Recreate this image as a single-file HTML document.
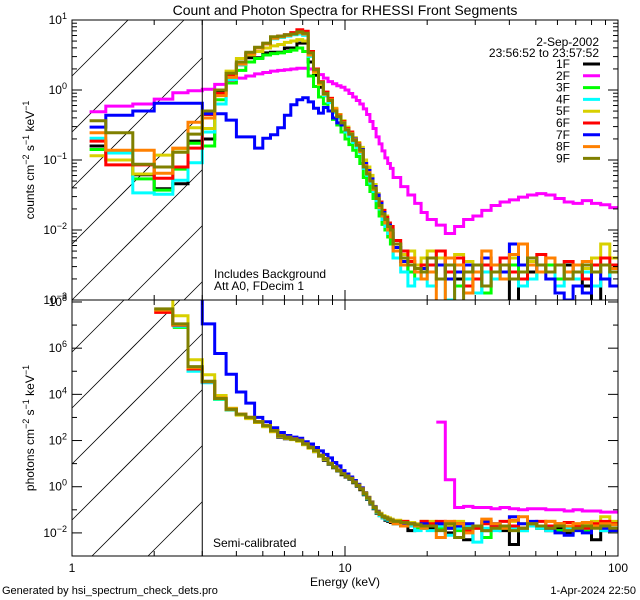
<!DOCTYPE html>
<html><head><meta charset="utf-8"><title>RHESSI Spectrum Check</title><style>
html,body{margin:0;padding:0;background:#fff;width:640px;height:600px;overflow:hidden;}
svg{display:block;font-family:"Liberation Sans",sans-serif;}
</style></head><body>
<svg id="chart" width="640" height="600" viewBox="0 0 640 600">
<defs>
<clipPath id="clipTop"><rect x="72" y="20" width="546" height="280"/></clipPath>
<clipPath id="clipBot"><rect x="72" y="300" width="546" height="256"/></clipPath>
</defs>
<rect x="0" y="0" width="640" height="600" fill="#fff"/>
<text x="345" y="15" text-anchor="middle" font-size="14">Count and Photon Spectra for RHESSI Front Segments</text>
<g id="hatch"></g>
<g id="series"></g>
<g id="axes" stroke="#000" fill="none" stroke-width="1"></g>
<g id="labels" font-size="12" fill="#000"></g>
<text x="214" y="278" font-size="12">Includes Background</text>
<text x="214" y="290" font-size="12">Att A0, FDecim  1</text>
<text x="213" y="547" font-size="12">Semi-calibrated</text>
<text x="345" y="586" text-anchor="middle" font-size="12">Energy (keV)</text>
<text x="2" y="594" font-size="11">Generated by hsi_spectrum_check_dets.pro</text>
<text x="636" y="594" text-anchor="end" font-size="11">1-Apr-2024 22:50</text>
<text transform="translate(34,160) rotate(-90)" text-anchor="middle" font-size="12">counts cm<tspan dy="-5" font-size="9">−2</tspan><tspan dy="5"> s</tspan><tspan dy="-5" font-size="9">−1</tspan><tspan dy="5"> keV</tspan><tspan dy="-5" font-size="9">−1</tspan></text>
<text transform="translate(34,428) rotate(-90)" text-anchor="middle" font-size="12">photons cm<tspan dy="-5" font-size="9">−2</tspan><tspan dy="5"> s</tspan><tspan dy="-5" font-size="9">−1</tspan><tspan dy="5"> keV</tspan><tspan dy="-5" font-size="9">−1</tspan></text>
<g id="legend" font-size="12"></g>
</svg>
<script>
const edges=[1.16,1.33,1.67,2.0,2.34,2.66,3.0,3.333,3.667,4,4.333,4.667,5,5.333,5.667,6,6.333,6.667,7,7.333,7.667,8,8.333,8.667,9,9.333,9.667,10,10.333,10.667,11,11.333,11.667,12,12.333,12.667,13,13.333,13.667,14,14.333,14.667,15,16,17,18,19,20,21.6,23.3,25.2,27.2,29.4,31.7,34.3,37,40,43.2,46.6,50.4,54.4,58.8,63.5,68.5,74,80,86.4,93.3,100];
const seriesNames=["1F","2F","3F","4F","5F","6F","7F","8F","9F"];
const seriesColors=["#000000","#ff00ff","#00ff00","#00ffff","#d8d000","#ff0000","#0000ff","#ff8000","#808000"];
const counts1F=[-0.8,-1.0,-1.21,-1.41,-1.34,-0.73,-0.7,-0.03,0.2,0.36,0.46,0.46,0.53,0.54,0.54,0.6,0.6,0.67,0.67,0.4,0.21,0.04,-0.08,-0.17,-0.3,-0.4,-0.48,-0.58,-0.65,-0.73,-0.8,-0.88,-1.1,-1.2,-1.32,-1.43,-1.56,-1.68,-1.8,-1.88,-1.96,-2.05,-2.3,-2.45,-2.6,-2.5,-2.55,-2.5,-2.4,-2.6,-2.7,-2.5,-2.6,-2.8,-2.5,-2.6,-3.1,-2.7,-2.6,-2.5,-2.6,-2.7,-2.5,-2.6,-2.8,-3.1,-2.7,-2.6];
const counts2F=[-0.31,-0.23,-0.2,-0.13,-0.04,-0.01,0.01,0.08,0.13,0.17,0.2,0.23,0.25,0.27,0.28,0.29,0.3,0.31,0.31,0.3,0.27,0.22,0.17,0.12,0.09,0.06,0.04,0.0,-0.05,-0.1,-0.15,-0.2,-0.27,-0.35,-0.45,-0.55,-0.67,-0.77,-0.87,-0.97,-1.05,-1.12,-1.25,-1.38,-1.5,-1.62,-1.75,-1.85,-1.93,-2.05,-1.95,-1.85,-1.8,-1.72,-1.65,-1.6,-1.57,-1.53,-1.5,-1.48,-1.5,-1.55,-1.6,-1.62,-1.58,-1.62,-1.64,-1.68];
const counts3F=[-0.85,-1.0,-1.27,-1.43,-1.13,-0.76,-0.8,-0.14,0.1,0.28,0.4,0.45,0.5,0.52,0.53,0.55,0.57,0.6,0.55,0.2,0.05,-0.1,-0.2,-0.3,-0.42,-0.5,-0.6,-0.7,-0.78,-0.86,-0.95,-1.05,-1.25,-1.35,-1.45,-1.55,-1.68,-1.8,-1.92,-2.0,-2.1,-2.2,-2.4,-2.5,-2.6,-2.7,-2.6,-2.6,-2.5,-2.7,-2.8,-2.6,-2.5,-2.9,-2.6,-2.7,-2.5,-2.6,-2.7,-2.6,-2.5,-2.7,-2.6,-2.5,-2.7,-2.6,-2.5,-2.6];
const counts4F=[-0.69,-0.9,-1.47,-1.49,-1.29,-1.04,-0.6,-0.2,0.15,0.36,0.52,0.6,0.66,0.73,0.75,0.77,0.79,0.8,0.78,0.48,0.25,0.08,-0.08,-0.18,-0.32,-0.4,-0.5,-0.6,-0.66,-0.75,-0.82,-0.9,-1.12,-1.22,-1.33,-1.45,-1.58,-1.7,-1.85,-1.95,-2.05,-2.1,-2.4,-2.6,-2.8,-2.7,-2.6,-2.8,-2.7,-3.0,-2.6,-2.7,-2.9,-2.6,-2.7,-2.5,-2.6,-2.8,-2.7,-2.5,-2.6,-2.8,-2.6,-2.7,-2.6,-2.8,-2.7,-2.6];
const counts5F=[-0.94,-1.0,-1.2,-0.93,-0.84,-0.54,-0.55,0.0,0.27,0.45,0.5,0.55,0.6,0.63,0.65,0.68,0.7,0.72,0.7,0.5,0.25,0.08,-0.03,-0.12,-0.26,-0.35,-0.44,-0.53,-0.6,-0.68,-0.75,-0.82,-1.0,-1.1,-1.22,-1.35,-1.48,-1.6,-1.72,-1.8,-1.9,-1.95,-2.2,-2.35,-2.3,-2.5,-2.4,-2.3,-2.4,-2.5,-2.35,-2.45,-2.6,-2.4,-2.5,-2.6,-2.4,-2.5,-2.45,-2.6,-2.4,-2.5,-2.6,-2.5,-2.55,-2.4,-2.2,-2.4];
const counts6F=[-0.73,-1.07,-1.07,-1.26,-1.1,-0.83,-0.35,-0.05,0.2,0.38,0.52,0.6,0.66,0.75,0.77,0.79,0.82,0.86,0.84,0.55,0.3,0.12,-0.03,-0.12,-0.28,-0.36,-0.45,-0.55,-0.6,-0.7,-0.77,-0.85,-1.05,-1.15,-1.28,-1.38,-1.5,-1.6,-1.72,-1.82,-1.9,-1.95,-2.15,-2.3,-2.45,-2.6,-2.5,-2.5,-2.3,-2.6,-2.4,-2.8,-2.7,-2.5,-2.6,-2.4,-2.6,-2.7,-2.5,-2.35,-2.6,-2.5,-2.45,-2.6,-2.7,-2.5,-2.4,-2.5];
const counts7F=[-0.53,-0.36,-0.3,-0.19,-0.19,-0.19,-0.34,-0.34,-0.43,-0.67,-0.67,-0.83,-0.69,-0.64,-0.54,-0.36,-0.21,-0.14,-0.11,-0.17,-0.26,-0.33,-0.25,-0.3,-0.4,-0.47,-0.5,-0.57,-0.63,-0.7,-0.78,-0.85,-1.05,-1.15,-1.27,-1.38,-1.5,-1.62,-1.75,-1.85,-1.93,-2.0,-2.25,-2.45,-2.5,-2.6,-2.55,-2.6,-2.5,-2.7,-2.6,-2.5,-2.6,-2.4,-2.5,-2.6,-2.2,-2.5,-2.4,-2.6,-2.7,-2.9,-3.0,-2.8,-2.9,-2.6,-2.7,-2.8];
const counts8F=[-0.61,-0.86,-0.86,-1.19,-0.83,-0.46,-0.4,-0.08,0.18,0.37,0.52,0.6,0.66,0.74,0.76,0.78,0.8,0.82,0.8,0.5,0.27,0.1,-0.06,-0.14,-0.27,-0.37,-0.46,-0.56,-0.62,-0.71,-0.78,-0.88,-1.08,-1.18,-1.3,-1.42,-1.55,-1.68,-1.8,-1.9,-2.0,-2.1,-2.3,-2.5,-2.4,-2.6,-2.7,-2.6,-3.1,-2.4,-2.5,-2.9,-2.6,-2.3,-2.5,-2.7,-2.35,-2.2,-2.5,-2.6,-2.4,-2.5,-2.6,-2.5,-2.45,-2.6,-2.5,-2.55];
const counts9F=[-0.44,-0.61,-1.06,-1.1,-0.89,-0.63,-0.3,0.0,0.24,0.4,0.54,0.61,0.67,0.76,0.77,0.79,0.8,0.83,0.81,0.53,0.29,0.11,-0.05,-0.15,-0.3,-0.38,-0.47,-0.57,-0.63,-0.72,-0.79,-0.86,-1.1,-1.2,-1.3,-1.4,-1.55,-1.65,-1.77,-1.85,-1.95,-2.0,-2.2,-2.4,-2.5,-2.55,-2.6,-2.4,-2.7,-2.5,-3.1,-2.6,-2.5,-2.8,-2.6,-2.5,-2.7,-2.6,-2.4,-2.5,-2.6,-2.5,-2.7,-2.6,-2.5,-2.6,-2.5,-2.6];
const photons1F=[null,null,null,null,6.95,5.05,4.55,3.8,3.33,3.12,2.98,2.78,2.62,2.4,2.15,2.08,2.05,1.98,1.83,1.68,1.52,1.32,1.15,0.97,0.82,0.68,0.52,0.42,0.32,0.17,0.02,-0.13,-0.35,-0.55,-0.75,-0.95,-1.15,-1.25,-1.35,-1.45,-1.5,-1.55,-1.6,-1.7,-1.9,-1.65,-1.8,-1.8,-1.7,-2.0,-1.8,-2.3,-1.7,-1.9,-1.8,-1.9,-2.5,-1.8,-1.7,-1.8,-1.9,-1.8,-2.0,-1.8,-1.7,-2.3,-1.9,-1.8];
const photons2F=[null,null,null,null,null,null,null,null,null,null,null,null,null,null,null,null,null,null,null,null,null,null,null,null,null,null,null,null,null,null,null,null,null,null,null,null,null,null,null,null,null,null,null,null,null,null,null,null,2.8,0.3,-0.9,-0.85,-0.9,-0.9,-0.95,-0.9,-0.95,-1.0,-0.95,-0.95,-1.0,-1.0,-1.05,-1.0,-1.05,-1.05,-1.1,-1.1];
const photons3F=[null,null,null,null,6.9,5.05,4.52,3.78,3.33,3.12,2.98,2.8,2.64,2.42,2.2,2.13,2.06,2.0,1.86,1.72,1.58,1.37,1.22,1.02,0.87,0.72,0.57,0.47,0.37,0.27,0.1,-0.08,-0.28,-0.48,-0.68,-0.88,-1.08,-1.2,-1.3,-1.35,-1.4,-1.45,-1.55,-1.6,-1.7,-1.8,-1.6,-1.7,-1.8,-1.6,-1.9,-1.7,-1.8,-2.2,-1.7,-1.8,-1.7,-1.9,-1.6,-1.8,-1.7,-1.9,-1.7,-1.8,-1.9,-1.7,-1.8,-1.9];
const photons4F=[null,null,null,null,6.95,5.0,4.5,3.8,3.34,3.13,2.99,2.8,2.63,2.41,2.19,2.12,2.05,2.0,1.85,1.7,1.55,1.34,1.2,1.0,0.85,0.7,0.55,0.45,0.35,0.2,0.05,-0.1,-0.32,-0.52,-0.72,-0.92,-1.12,-1.25,-1.35,-1.4,-1.45,-1.5,-1.6,-1.65,-1.7,-1.9,-1.8,-1.9,-1.7,-2.1,-1.8,-1.7,-2.4,-1.8,-1.9,-1.7,-1.8,-1.9,-1.7,-1.8,-1.9,-1.7,-1.8,-1.9,-1.8,-1.7,-1.9,-1.8];
const photons5F=[null,null,null,9.0,7.4,5.5,4.85,3.95,3.4,3.1,2.95,2.78,2.6,2.38,2.18,2.1,2.04,1.97,1.82,1.67,1.52,1.33,1.18,1.0,0.85,0.72,0.6,0.5,0.38,0.22,0.08,-0.05,-0.25,-0.45,-0.65,-0.85,-1.05,-1.15,-1.25,-1.3,-1.35,-1.4,-1.45,-1.5,-1.55,-1.6,-1.5,-1.5,-1.6,-1.7,-1.5,-1.6,-1.7,-1.5,-1.6,-1.7,-1.5,-1.6,-1.55,-1.7,-1.5,-1.6,-1.7,-1.6,-1.65,-1.5,-1.3,-1.5];
const photons6F=[null,null,null,7.55,7.0,5.1,4.55,3.83,3.36,3.15,3.0,2.82,2.65,2.43,2.21,2.14,2.07,2.01,1.86,1.71,1.57,1.36,1.21,1.01,0.86,0.71,0.56,0.46,0.36,0.21,0.06,-0.09,-0.29,-0.49,-0.69,-0.89,-1.09,-1.2,-1.3,-1.35,-1.4,-1.45,-1.5,-1.5,-1.6,-1.7,-1.5,-1.6,-1.5,-1.8,-1.6,-1.9,-1.8,-1.6,-1.7,-1.5,-1.7,-1.8,-1.6,-1.5,-1.7,-1.6,-1.55,-1.7,-1.8,-1.6,-1.5,-1.6];
const photons7F=[null,null,null,null,null,9.0,7.05,5.77,4.87,4.1,3.62,3.0,2.81,2.55,2.35,2.22,2.15,2.1,1.95,1.85,1.7,1.55,1.4,1.25,1.05,0.9,0.7,0.55,0.42,0.27,0.1,-0.05,-0.27,-0.47,-0.67,-0.87,-1.07,-1.2,-1.3,-1.35,-1.4,-1.45,-1.55,-1.6,-1.6,-1.7,-1.6,-1.7,-1.6,-1.8,-1.7,-1.6,-1.7,-1.5,-1.6,-1.7,-1.3,-1.6,-1.5,-1.7,-1.8,-2.0,-2.1,-1.9,-2.0,-1.7,-1.8,-1.9];
const photons8F=[null,null,null,7.65,7.02,5.15,4.56,3.84,3.36,3.15,3.0,2.82,2.65,2.43,2.21,2.14,2.07,2.01,1.86,1.71,1.57,1.36,1.21,1.01,0.86,0.71,0.56,0.46,0.36,0.21,0.06,-0.09,-0.29,-0.49,-0.69,-0.89,-1.09,-1.2,-1.3,-1.35,-1.4,-1.5,-1.6,-1.7,-1.6,-1.7,-1.8,-1.7,-2.2,-1.5,-1.6,-2.0,-1.7,-1.4,-1.6,-1.8,-1.45,-1.3,-1.6,-1.7,-1.5,-1.6,-1.7,-1.6,-1.55,-1.7,-1.6,-1.65];
const photons9F=[null,null,null,7.7,7.05,5.2,4.57,3.82,3.35,3.14,3.0,2.81,2.64,2.42,2.2,2.13,2.06,2.0,1.85,1.7,1.56,1.35,1.2,1.0,0.85,0.7,0.55,0.45,0.35,0.2,0.05,-0.1,-0.3,-0.5,-0.7,-0.9,-1.1,-1.2,-1.3,-1.35,-1.4,-1.45,-1.5,-1.55,-1.6,-1.65,-1.7,-1.7,-1.9,-1.6,-2.2,-1.8,-1.7,-1.9,-1.8,-1.7,-1.9,-1.8,-1.6,-1.7,-1.8,-1.7,-1.9,-1.8,-1.7,-1.8,-1.7,-1.8];
const topTickLabels=["1","0","−1","−2","−3"];
const topTickPowers=[1,0,-1,-2,-3];
const botTickLabels=["8","6","4","2","0","−2"];
const botTickPowers=[8,6,4,2,0,-2];
const xTickLabels=["1","10","100"];
const xTickValues=[1,10,100];

const countsAll=[counts1F,counts2F,counts3F,counts4F,counts5F,counts6F,counts7F,counts8F,counts9F];
const photonsAll=[photons1F,photons2F,photons3F,photons4F,photons5F,photons6F,photons7F,photons8F,photons9F];
const NS="http://www.w3.org/2000/svg";
const X0=72,X1=618;
function xs(e){return X0+(X1-X0)*Math.log10(e)/2;}
const TOP={y0:20,y1:300,lmax:1,lmin:-3};
const BOT={y0:300,y1:556,lmax:8+2/23.3,lmin:-3};
function ys(p,l){return p.y0+(p.lmax-l)/(p.lmax-p.lmin)*(p.y1-p.y0);}
function mk(tag,attrs,parent){const el=document.createElementNS(NS,tag);for(const k in attrs)el.setAttribute(k,attrs[k]);parent.appendChild(el);return el;}
const hatch=document.getElementById('hatch');
const seriesG=document.getElementById('series');
const axes=document.getElementById('axes');
const labels=document.getElementById('labels');
const legend=document.getElementById('legend');

function drawHatch(y0,y1,phase,name){
  const g=mk('g',{stroke:'#000','stroke-width':'0.8'},hatch);
  
  
  const xl=72,xr=xs(3);
  for(let c=phase-400;c<y1+(xr-xl);c+=56){
    // line y = c - (x - xl)
    let xa=xl,ya=c;
    if(ya>y1){xa=xl+(ya-y1);ya=y1;}
    let xb=xr,yb=c-(xr-xl);
    if(yb<y0){xb=xl+(c-y0);yb=y0;}
    if(xa>=xb||xa>xr||xb<xl)continue;
    const l=mk('line',{x1:xa,y1:ya,x2:xb,y2:yb},g);
    
    
  }
}
drawHatch(20,300,140,'top-excluded-region');
drawHatch(300,556,360,'bottom-excluded-region');

function stepPath(vals,p){
  let d='';let prev=null;
  for(let i=0;i<vals.length;i++){
    const v=vals[i];
    if(v===null||v===undefined){prev=null;continue;}
    const vc=Math.max(p.lmin-0.05,Math.min(p.lmax+0.05,v));
    const xa=xs(edges[i]).toFixed(1),xb=xs(edges[i+1]).toFixed(1),y=ys(p,vc).toFixed(1);
    if(prev===null){d+='M'+xa+' '+y;}else{d+='V'+y;}
    d+='H'+xb;prev=v;
  }
  return d;
}
function drawPanel(all,p,clip,prefix){
  const g=mk('g',{'clip-path':'url(#'+clip+')'},seriesG);
  
  
  for(let s=0;s<all.length;s++){
    const path=mk('path',{d:stepPath(all[s],p),fill:'none',stroke:seriesColors[s],'stroke-width':'3'},g);
    
    
  }
}
drawPanel(countsAll,TOP,'clipTop','counts');
drawPanel(photonsAll,BOT,'clipBot','photons');

const f1=mk('rect',{x:X0,y:20,width:X1-X0,height:280},axes);


const f2=mk('rect',{x:X0,y:300,width:X1-X0,height:256},axes);


[[20,300],[300,556]].forEach(function(r){
  const l=mk('line',{x1:xs(3),y1:r[0],x2:xs(3),y2:r[1]},axes);
  
  
});
function xTicks(yb,yt){
  for(let dec=1;dec<100;dec*=10){
    for(let m=1;m<10;m++){
      const x=xs(dec*m);const len=(m===1)?10:5;
      const a=mk('line',{x1:x,y1:yb,x2:x,y2:yb-len},axes);
      
      
      const b=mk('line',{x1:x,y1:yt,x2:x,y2:yt+len},axes);
      
      
    }
  }
}
xTicks(300,20);xTicks(556,300);
for(let d=-3;d<=1;d++){
  for(let m=1;m<10;m++){
    const l=d+Math.log10(m);if(l>1)break;
    const y=ys(TOP,l);const len=(m===1)?10:5;
    const a=mk('line',{x1:X0,y1:y,x2:X0+len,y2:y},axes);
    
    
    const b=mk('line',{x1:X1,y1:y,x2:X1-len,y2:y},axes);
    
    
  }
}
for(let d=-3;d<=8;d++){
  const y=ys(BOT,d);const len=(d%2===0)?10:5;
  const a=mk('line',{x1:X0,y1:y,x2:X0+len,y2:y},axes);
  
  
  const b=mk('line',{x1:X1,y1:y,x2:X1-len,y2:y},axes);
  
  
}
function powLabel(p,pw,txt,name){
  const y=ys(p,pw);
  const t=mk('text',{x:X0-5,y:y+4,'text-anchor':'end','font-size':'12'},labels);
  
  
  const a=document.createElementNS(NS,'tspan');a.textContent='10';t.appendChild(a);
  const b=document.createElementNS(NS,'tspan');b.setAttribute('dy','-5');b.setAttribute('font-size','9');b.textContent=txt;t.appendChild(b);
}
topTickLabels.forEach(function(t,i){powLabel(TOP,topTickPowers[i],t,'top-y-tick-label');});
botTickLabels.forEach(function(t,i){powLabel(BOT,botTickPowers[i],t,'bottom-y-tick-label');});
xTickLabels.forEach(function(t,i){
  const el=mk('text',{x:xs(xTickValues[i]),y:572,'text-anchor':'middle','font-size':'12'},labels);
  
  
  el.textContent=t;
});
const d1=mk('text',{x:599,y:46,'text-anchor':'end'},legend);


d1.textContent='2-Sep-2002';
const d2=mk('text',{x:599,y:57,'text-anchor':'end'},legend);


d2.textContent='23:56:52 to 23:57:52';
seriesNames.forEach(function(n,i){
  const y=64+i*11.8;
  const g=mk('g',{},legend);
  
  
  const t=mk('text',{x:570,y:y+4,'text-anchor':'end'},g);
  t.textContent=n;
  const l=mk('line',{x1:583,y1:y,x2:600,y2:y,stroke:seriesColors[i],'stroke-width':'3'},g);
  
  
});
</script>
</body></html>
